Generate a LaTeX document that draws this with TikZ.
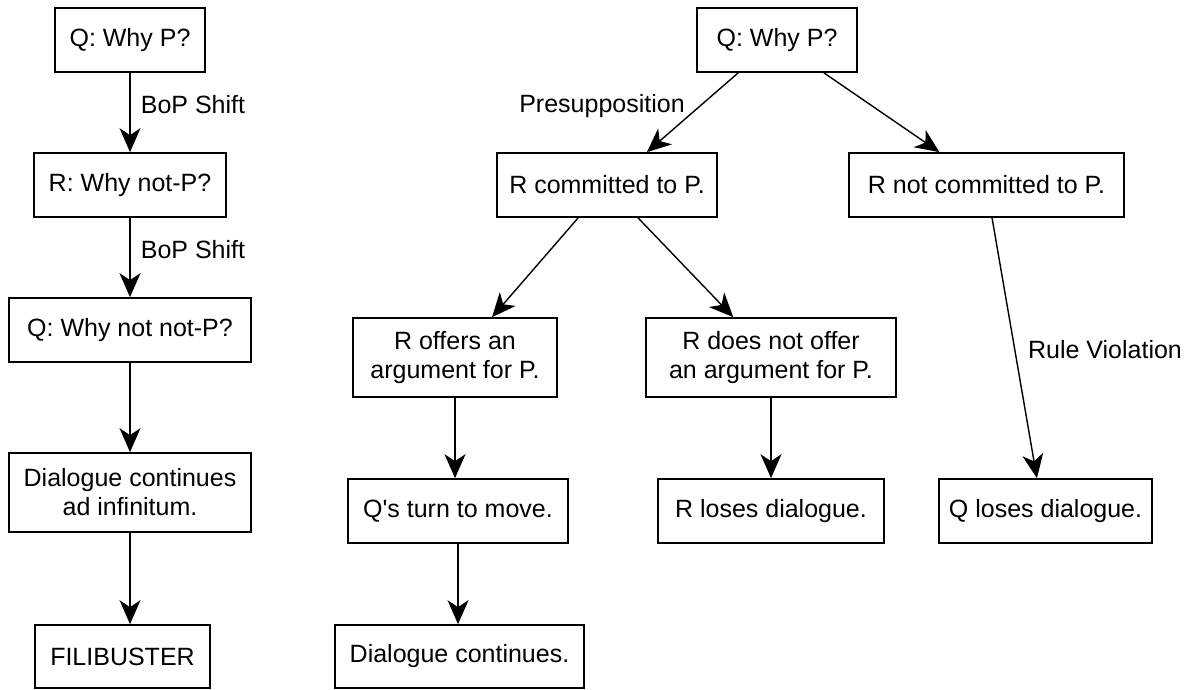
\documentclass[tikz,border=0pt]{standalone}
\usepackage{fontspec}
\newfontfamily\diagfont{Liberation Sans}
\usetikzlibrary{arrows.meta,calc}
\tikzset{
  txt/.style={font=\diagfont\fontsize{25}{29}\selectfont, text=black},
  box/.style={txt, draw=black, line width=1.7pt, inner sep=0pt, align=center},
  lbl/.style={txt, inner sep=0pt},
  conn/.style={-{Stealth[length=24pt,width=21pt,inset=7pt]}, line width=1.7pt, draw=black},
  diag/.style={conn, line width=1.4pt},
}
\begin{document}
\begin{tikzpicture}[x=1pt,y=-1pt]
\useasboundingbox (0,0) rectangle (1190,689);
% left column
\node[box, minimum width=150pt, minimum height=64pt] (q1) at (130,40) {Q: Why P?};
\node[box, minimum width=192pt, minimum height=64pt] (r1) at (130,185) {R: Why not-P?};
\node[box, minimum width=242pt, minimum height=64pt] (q2) at (130,330) {Q: Why not not-P?};
\node[box, minimum width=242pt, minimum height=79pt] (d1) at (130,492.5) {Dialogue continues\\ad infinitum.};
\node[box, minimum width=175pt, minimum height=63pt] (fil) at (122.5,656.5) {FILIBUSTER};
% right tree
\node[box, minimum width=160pt, minimum height=64pt] (qt) at (777,40) {Q: Why P?};
\node[box, minimum width=220pt, minimum height=64pt] (rc) at (607,185) {R committed to P.};
\node[box, minimum width=275pt, minimum height=64pt] (rn) at (986.5,185) {R not committed to P.};
\node[box, minimum width=204pt, minimum height=79pt] (ro) at (455,357.5) {R offers an\\argument for P.};
\node[box, minimum width=250pt, minimum height=79pt] (rd) at (771,357.5) {R does not offer\\an argument for P.};
\node[box, minimum width=220pt, minimum height=64pt] (qm) at (458,511) {Q's turn to move.};
\node[box, minimum width=226pt, minimum height=64pt] (rl) at (771,511) {R loses dialogue.};
\node[box, minimum width=213pt, minimum height=64pt] (ql) at (1045.5,511) {Q loses dialogue.};
\node[box, minimum width=249pt, minimum height=63pt] (dc) at (459.5,656.5) {Dialogue continues.};
% labels
\node[lbl] (l1) at (193,105) {BoP Shift};
\node[lbl] (l2) at (193,250) {BoP Shift};
\node[lbl] (l3) at (602,106) {Presupposition};
\node[lbl] (l4) at (1105,350) {Rule Violation};
% left connectors
\draw[conn] (q1.south) -- (q1.south |- r1.north);
\draw[conn] (r1.south) -- (r1.south |- q2.north);
\draw[conn] (q2.south) -- (q2.south |- d1.north);
\draw[conn] (d1.south) -- (d1.south |- fil.north);
% right connectors
\draw[diag] ($(qt.south west)!0.26!(qt.south east)$) -- ($(rc.north west)!0.68!(rc.north east)$);
\draw[diag] ($(qt.south west)!0.79!(qt.south east)$) -- ($(rn.north west)!0.33!(rn.north east)$);
\draw[diag] ($(rc.south west)!0.37!(rc.south east)$) -- ($(ro.north west)!0.68!(ro.north east)$);
\draw[diag] ($(rc.south west)!0.64!(rc.south east)$) -- ($(rd.north west)!0.35!(rd.north east)$);
\draw[diag] ($(rn.south west)!0.52!(rn.south east)$) -- ($(ql.north west)!0.46!(ql.north east)$);
\draw[conn] (ro.south) -- (ro.south |- qm.north);
\draw[conn] (qm.south) -- (qm.south |- dc.north);
\draw[conn] (rd.south) -- (rd.south |- rl.north);
\end{tikzpicture}
\end{document}
